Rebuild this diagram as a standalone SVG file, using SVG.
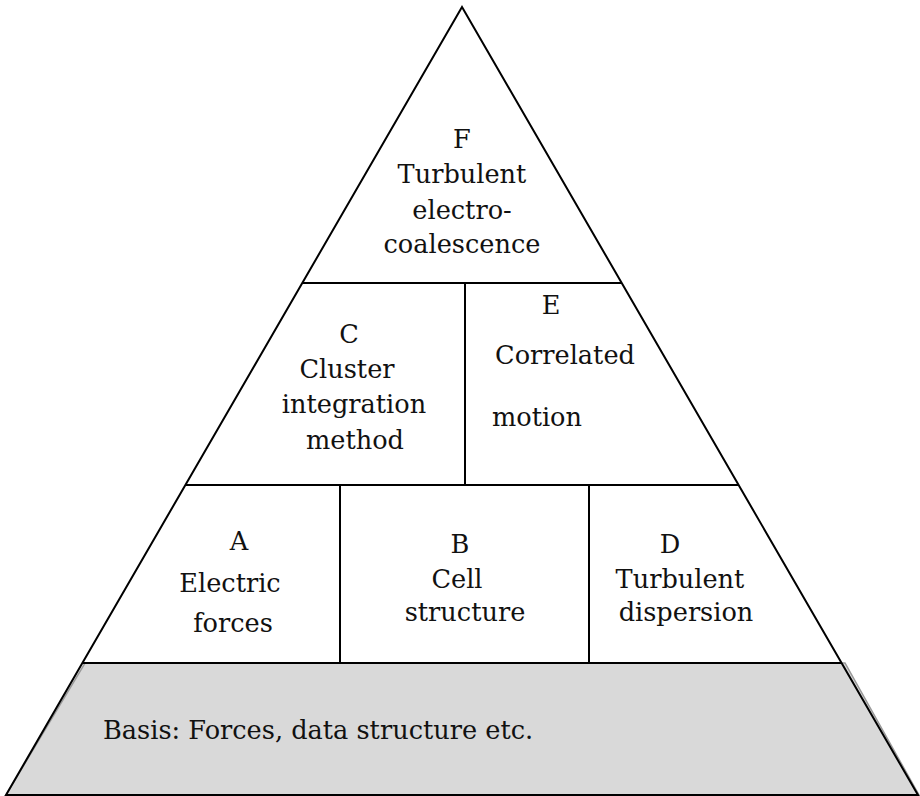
<svg xmlns="http://www.w3.org/2000/svg" width="920" height="796" viewBox="0 0 920 796">
<style>
.t{font-family:"DejaVu Serif",serif;font-size:25.6px;fill:#111;text-anchor:middle}
.l{stroke:#000;stroke-width:2;fill:none}
</style>
<rect width="920" height="796" fill="#fff"/>
<g id="basis">
<polygon points="85,663 845,663 919,795 6,795" fill="#d9d9d9" stroke="#999" stroke-width="1.5"/>
<text class="t" x="103" y="739" style="text-anchor:start">Basis: Forces, data structure etc.</text>
</g>
<g id="connectors">
<polygon class="l" points="462,7 918,795 6,795"/>
<line class="l" x1="302" y1="283" x2="622" y2="283"/>
<line class="l" x1="185" y1="485" x2="739" y2="485"/>
<line class="l" x1="82" y1="663" x2="842" y2="663"/>
<line class="l" x1="465" y1="283" x2="465" y2="485"/>
<line class="l" x1="340" y1="485" x2="340" y2="663"/>
<line class="l" x1="589" y1="485" x2="589" y2="663"/>
</g>
<g id="F">
<text class="t" x="462" y="148">F</text>
<text class="t" x="462" y="183">Turbulent</text>
<text class="t" x="462" y="219">electro-</text>
<text class="t" x="462" y="253">coalescence</text>
</g>
<g id="C">
<text class="t" x="349" y="343">C</text>
<text class="t" x="347" y="378">Cluster</text>
<text class="t" x="354" y="413">integration</text>
<text class="t" x="355" y="449">method</text>
</g>
<g id="E">
<text class="t" x="551" y="314">E</text>
<text class="t" x="565" y="364">Correlated</text>
<text class="t" x="537" y="426">motion</text>
</g>
<g id="A">
<text class="t" x="239" y="550">A</text>
<text class="t" x="230" y="592">Electric</text>
<text class="t" x="233" y="632">forces</text>
</g>
<g id="B">
<text class="t" x="460" y="553">B</text>
<text class="t" x="457" y="588">Cell</text>
<text class="t" x="465" y="621">structure</text>
</g>
<g id="D">
<text class="t" x="670" y="553">D</text>
<text class="t" x="680" y="588">Turbulent</text>
<text class="t" x="686" y="621">dispersion</text>
</g>
</svg>
